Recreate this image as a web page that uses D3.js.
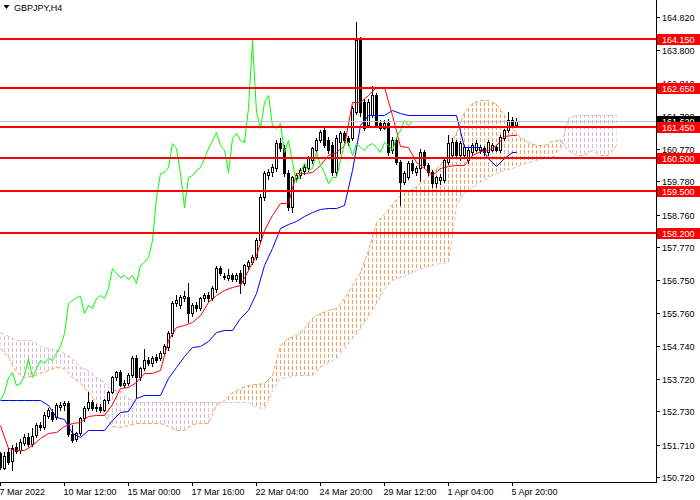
<!DOCTYPE html>
<html>
<head>
<meta charset="utf-8">
<script src="https://d3js.org/d3.v7.min.js"></script>
<style>
body { margin: 0; background: #fff; }
svg { display: block; font-family: "Liberation Sans", Arial, sans-serif; }
</style>
</head>
<body>
<svg class="theSvg" width="700" height="500"></svg>
<script>
// GBPJPY H4 candles, one per bar (bar 0 = 7 Mar 2022)
var opens = [
151.45,151.00,151.48,151.22,151.64,151.54,151.76,151.94,151.73,152.00,
152.31,152.25,152.59,152.71,152.56,152.86,152.92,152.98,152.05,151.88,
152.07,152.52,152.83,153.02,152.83,152.86,152.78,153.08,153.32,153.78,
153.93,153.54,153.60,153.84,154.36,153.78,154.06,154.30,154.21,154.40,
154.36,154.52,154.70,155.13,156.05,155.99,156.20,156.24,155.74,155.99,
155.90,156.20,156.30,156.20,156.48,157.12,156.88,156.82,156.91,156.79,
156.97,156.66,157.19,157.31,157.46,157.98,159.30,159.98,160.07,160.19,
160.96,160.80,160.04,158.99,159.88,159.98,160.10,160.19,160.43,160.74,
161.05,161.36,161.05,160.89,160.07,161.00,161.26,161.11,161.11,161.91,
164.12,162.21,161.51,161.82,162.43,161.57,161.42,161.57,160.74,161.05,
160.37,159.76,159.91,160.34,160.07,160.19,160.68,160.28,160.07,159.73,
159.82,159.82,160.37,160.59,160.99,160.59,160.59,160.43,160.68,160.74,
160.74,160.80,160.68,160.74,160.83,160.74,161.11,161.36,161.66,161.51];
var highs = [
151.50,151.48,151.60,151.70,151.75,151.88,152.04,152.06,152.22,152.36,
152.42,152.70,152.85,152.80,152.98,153.02,153.05,153.05,152.31,152.10,
152.55,152.90,153.32,153.08,152.95,152.96,153.12,153.36,153.82,153.96,
154.00,153.70,153.90,154.42,154.45,154.10,154.64,154.40,154.44,154.48,
154.58,154.80,155.18,156.10,156.30,156.30,156.42,156.66,156.05,156.08,
156.25,156.36,156.38,156.58,157.20,157.18,156.98,157.09,156.98,156.96,
157.05,157.26,157.36,157.52,158.05,159.38,160.10,160.15,160.30,161.05,
161.10,160.90,160.12,159.95,160.05,160.18,160.30,160.55,160.85,161.12,
161.36,161.45,161.15,160.98,161.20,161.32,161.34,161.18,162.10,164.67,
164.20,162.30,162.30,162.70,162.50,161.65,161.65,161.70,161.15,161.12,
160.45,160.10,160.40,160.45,160.25,160.78,160.74,160.35,160.12,159.95,
160.00,160.50,161.20,161.10,161.05,161.02,160.90,160.80,160.95,161.05,
160.90,160.88,161.05,160.95,160.90,161.20,161.40,161.91,161.75,161.72];
var lows = [
150.98,150.95,151.12,150.93,151.45,151.46,151.70,151.66,151.68,151.94,
152.15,152.20,152.52,152.44,152.50,152.76,152.78,151.98,151.80,151.82,
152.00,152.45,152.76,152.78,152.74,152.72,152.74,153.00,153.28,153.70,
153.50,153.48,153.55,153.80,153.17,153.70,154.00,154.15,154.12,154.25,
154.30,154.45,154.62,155.05,155.95,155.90,156.10,155.47,155.65,155.82,
155.85,156.12,156.12,156.15,156.40,156.90,156.78,156.76,156.72,156.72,
156.36,156.60,157.10,157.25,157.40,157.90,159.20,159.85,159.95,160.10,
160.70,159.95,158.90,158.85,159.80,159.88,160.00,160.10,160.35,160.66,
160.98,160.82,160.66,159.98,159.98,160.66,160.98,160.90,161.05,161.85,
161.80,161.35,161.45,161.75,161.45,161.35,161.38,160.60,160.66,160.30,
159.06,159.70,159.85,160.05,159.98,159.80,160.20,159.98,159.60,159.60,
159.70,159.76,160.30,160.50,160.50,160.45,160.50,160.35,160.60,160.70,
160.65,160.60,160.60,160.70,160.70,160.68,161.05,161.30,161.45,161.45];
var closes = [
151.02,151.36,151.18,151.61,151.51,151.79,151.94,151.73,151.97,152.31,
152.25,152.62,152.77,152.49,152.92,152.92,152.98,152.05,151.85,152.07,
152.52,152.83,153.02,152.83,152.86,152.78,153.08,153.32,153.78,153.93,
153.54,153.60,153.84,154.36,153.78,154.06,154.30,154.21,154.36,154.30,
154.52,154.73,155.13,156.05,156.14,156.24,156.27,155.74,155.99,155.90,
156.20,156.30,156.20,156.51,157.12,156.97,156.85,156.91,156.79,156.91,
156.66,157.22,157.31,157.46,157.98,159.30,160.04,160.07,160.22,160.96,
160.80,160.04,158.99,159.91,159.98,160.13,160.22,160.50,160.80,161.05,
161.29,160.89,160.74,160.07,161.11,161.26,161.05,160.99,162.03,164.12,
161.91,161.42,162.21,162.43,161.51,161.42,161.57,160.68,161.05,160.37,
159.76,160.04,160.34,160.13,160.19,160.68,160.28,160.07,159.73,159.91,
159.91,160.43,160.96,160.99,160.59,160.96,160.83,160.74,160.89,160.96,
160.83,160.68,160.99,160.89,160.74,161.14,161.36,161.66,161.51,161.62];

// Ichimoku lines read every second bar (last value = last bar)
var tenkan = [
152.31,151.61,151.54,151.54,151.70,151.91,152.07,152.10,152.28,152.37,
152.40,152.59,152.62,152.62,152.96,153.45,153.48,153.63,153.91,153.91,
154.00,154.92,155.32,155.38,155.47,155.68,156.08,156.30,156.45,156.54,
156.60,157.06,157.52,158.29,158.75,159.12,159.12,160.04,160.04,160.07,
160.28,160.59,160.68,160.89,162.21,162.21,162.43,162.67,162.67,161.82,
160.86,160.83,160.37,160.19,159.98,160.19,160.25,160.28,160.28,160.59,
160.71,160.74,160.89,161.17,161.20,161.20];
var kijun = [
153.08,153.08,153.08,153.08,153.08,153.08,152.92,152.56,152.49,152.07,
151.94,152.16,152.16,152.16,152.46,152.71,152.74,153.14,153.23,153.23,
153.23,153.75,154.09,154.43,154.70,154.73,154.89,155.16,155.22,155.22,
155.59,155.84,156.36,157.22,157.74,158.35,158.47,158.57,158.72,158.84,
158.93,158.96,158.96,159.06,160.13,161.51,161.82,161.82,161.82,161.97,
161.88,161.82,161.82,161.82,161.82,161.82,161.82,161.82,160.83,160.83,
160.83,160.50,160.25,160.50,160.68,160.68];
// cloud, every second bar, 26 bars past the last candle
var spanA = [
154.67,154.40,153.94,153.78,153.82,153.91,154.00,154.09,154.06,153.78,
153.60,153.32,153.02,152.65,152.28,152.25,152.31,152.37,152.37,152.37,
152.37,152.28,152.16,152.16,152.34,152.37,152.37,152.92,153.08,153.32,
153.45,153.54,153.57,153.60,153.84,154.76,154.98,155.07,155.28,155.59,
155.74,155.84,155.90,156.20,156.60,157.00,157.68,158.53,158.78,159.09,
159.36,159.48,159.64,159.82,160.07,160.28,160.74,161.29,161.91,162.18,
162.28,162.28,162.15,161.82,161.42,161.14,160.99,160.89,160.89,161.02,
161.05,160.74,160.59,160.59,160.74,160.59,160.59,160.89];
var spanB = [
155.16,155.04,154.92,154.92,154.92,154.73,154.67,154.61,154.52,154.36,
154.09,154.00,153.78,153.63,153.38,153.38,153.14,153.02,153.02,153.02,
153.02,153.02,153.02,153.02,153.02,153.02,153.02,153.02,153.02,153.02,
153.02,153.02,152.86,152.83,153.38,153.75,153.78,153.84,153.84,153.84,
154.09,154.24,154.36,154.67,154.98,155.28,155.65,156.05,156.51,156.76,
156.85,156.94,157.06,157.16,157.22,157.28,157.31,159.06,159.46,159.61,
159.76,159.91,160.04,160.13,160.19,160.28,160.37,160.44,160.50,160.53,
160.80,161.72,161.82,161.82,161.82,161.82,161.82,161.82];

var levels = [164.150, 162.650, 161.450, 160.500, 159.500, 158.200];
var priceTicks = [164.820, 163.800, 162.810, 161.790, 160.770, 159.780, 158.760,
	157.770, 156.750, 155.760, 154.740, 153.720, 152.730, 151.710, 150.720];
var timeLabels = ["7 Mar 2022", "10 Mar 12:00", "15 Mar 00:00", "17 Mar 16:00",
	"22 Mar 04:00", "24 Mar 20:00", "29 Mar 12:00", "1 Apr 04:00", "5 Apr 20:00"];
var timeBars = [0, 16, 32, 48, 64, 80, 96, 112, 128];

var lineBars = d3.range(0, 130, 2).concat([129]);
var spanBars = d3.range(0, 156, 2);
var chikouShift = 26;

var plotW = 656, plotH = 482;

var x = d3.scaleLinear().domain([0, 1]).range([0.5, 4.5]);
var y = d3.scaleLinear().domain([150.72, 164.82]).range([477, 17]);

var svg = d3.select(".theSvg");
var defs = svg.append("defs");

defs.append("clipPath").attr("id", "plotClip")
	.append("rect").attr("x", 0).attr("y", 0).attr("width", plotW).attr("height", plotH);

function hatch(id, color){
	var p = defs.append("pattern")
		.attr("id", id)
		.attr("patternUnits", "userSpaceOnUse")
		.attr("width", 4)
		.attr("height", 6);
	p.append("rect")
		.attr("x", 0).attr("y", 0)
		.attr("width", 1).attr("height", 4)
		.attr("fill", color);
}
hatch("hatchUp", "#F4A460");
hatch("hatchDown", "#D8BFD8");

var plot = svg.append("g").attr("clip-path", "url(#plotClip)");

// cloud
var upArea = d3.area()
	.x(function(d, k){ return x(spanBars[k]); })
	.y0(function(d, k){ return y(spanB[k]); })
	.y1(function(d, k){ return y(Math.max(spanA[k], spanB[k])); });
var downArea = d3.area()
	.x(function(d, k){ return x(spanBars[k]); })
	.y0(function(d, k){ return y(spanA[k]); })
	.y1(function(d, k){ return y(Math.max(spanA[k], spanB[k])); });

plot.append("path").attr("d", upArea(spanA)).attr("fill", "url(#hatchUp)");
plot.append("path").attr("d", downArea(spanA)).attr("fill", "url(#hatchDown)");

function lineOf(bars, vals){
	return d3.line()
		.x(function(d, k){ return x(bars[k]); })
		.y(function(d){ return Math.round(y(d)) + 0.5; })(vals);
}

plot.append("path").attr("d", lineOf(spanBars, spanA))
	.attr("fill", "none").attr("stroke", "#F4A460").attr("stroke-width", 1)
	.style("stroke-dasharray", "4,2");
plot.append("path").attr("d", lineOf(spanBars, spanB))
	.attr("fill", "none").attr("stroke", "#D8BFD8").attr("stroke-width", 1)
	.style("stroke-dasharray", "4,2");

// candles
var candles = plot.selectAll(".candle")
	.data(closes)
	.enter()
	.append("g")
	.attr("class", "candle");

candles.append("line")
	.attr("x1", function(d, i){ return x(i); })
	.attr("x2", function(d, i){ return x(i); })
	.attr("y1", function(d, i){ return Math.round(y(highs[i])); })
	.attr("y2", function(d, i){ return Math.round(y(lows[i])) + 1; })
	.attr("stroke", "#000")
	.attr("stroke-width", 1);

candles.append("rect")
	.attr("x", function(d, i){ return x(i) - 1; })
	.attr("y", function(d, i){ return Math.round(y(Math.max(opens[i], d))) + 0.5; })
	.attr("width", 2)
	.attr("height", function(d, i){
		return Math.abs(Math.round(y(opens[i])) - Math.round(y(d)));
	})
	.attr("fill", function(d, i){ return d >= opens[i] ? "#fff" : "#000"; })
	.attr("stroke", "#000")
	.attr("stroke-width", 1);

// indicator lines
plot.append("path").attr("d", lineOf(lineBars, kijun))
	.attr("fill", "none").attr("stroke", "#0000FF").attr("stroke-width", 1);
plot.append("path").attr("d", lineOf(lineBars, tenkan))
	.attr("fill", "none").attr("stroke", "#FF0000").attr("stroke-width", 1);

var chikou = closes.slice(chikouShift);
plot.append("path")
	.attr("d", lineOf(d3.range(chikou.length), chikou))
	.attr("fill", "none").attr("stroke", "#00FF00").attr("stroke-width", 1);

// bid line
var last = closes[closes.length - 1];
plot.append("line")
	.attr("x1", 0).attr("x2", plotW)
	.attr("y1", Math.round(y(last)) + 0.5).attr("y2", Math.round(y(last)) + 0.5)
	.attr("stroke", "#C0C0C0").attr("stroke-width", 1);

// horizontal levels
plot.selectAll(".level")
	.data(levels)
	.enter()
	.append("line")
	.attr("class", "level")
	.attr("x1", 0).attr("x2", plotW)
	.attr("y1", function(d){ return Math.round(y(d)); })
	.attr("y2", function(d){ return Math.round(y(d)); })
	.attr("stroke", "#FF0000")
	.attr("stroke-width", 2);

// axes frame
svg.append("line").attr("x1", plotW + 0.5).attr("x2", plotW + 0.5)
	.attr("y1", 0).attr("y2", plotH + 1).attr("stroke", "#000");
svg.append("line").attr("x1", 0).attr("x2", plotW + 1)
	.attr("y1", plotH + 0.5).attr("y2", plotH + 0.5).attr("stroke", "#000");

// price scale
var pt = svg.selectAll(".ptick")
	.data(priceTicks)
	.enter()
	.append("g")
	.attr("class", "ptick")
	.attr("transform", function(d){ return "translate(0," + (Math.round(y(d)) + 0.5) + ")"; });
pt.append("line").attr("x1", plotW).attr("x2", plotW + 4)
	.attr("stroke", "#000");
pt.append("text")
	.attr("x", 662).attr("y", 3.5)
	.attr("font-size", "9px").attr("fill", "#000")
	.text(function(d){ return d.toFixed(3); });

// time scale
var tt = svg.selectAll(".ttick")
	.data(timeBars)
	.enter()
	.append("g")
	.attr("class", "ttick")
	.attr("transform", function(d){ return "translate(" + x(d) + ",0)"; });
tt.append("line").attr("y1", plotH).attr("y2", plotH + 4).attr("stroke", "#000");
tt.append("text")
	.attr("x", -1).attr("y", 495)
	.attr("font-size", "9px").attr("fill", "#000")
	.text(function(d, i){ return timeLabels[i]; });

// bid label (under the level labels)
var bidY = Math.round(y(last));
svg.append("rect").attr("x", 657).attr("y", bidY - 5).attr("width", 43).attr("height", 11).attr("fill", "#000");
svg.append("text").attr("x", 662).attr("y", bidY + 4)
	.attr("font-size", "9px").attr("fill", "#fff").text(last.toFixed(3));

var lab = svg.selectAll(".lvlLabel")
	.data(levels)
	.enter()
	.append("g")
	.attr("class", "lvlLabel")
	.attr("transform", function(d){ return "translate(0," + Math.round(y(d)) + ")"; });
lab.append("rect").attr("x", 657).attr("y", -5).attr("width", 43).attr("height", 11)
	.attr("fill", "#FF0000");
lab.append("text").attr("x", 662).attr("y", 4)
	.attr("font-size", "9px").attr("fill", "#fff")
	.text(function(d){ return d.toFixed(3); });

// title
svg.append("path").attr("d", "M3.5,5 L9.5,5 L6.5,9 Z").attr("fill", "#000");
svg.append("text").attr("x", 14).attr("y", 11)
	.attr("font-size", "9px").attr("fill", "#000").text("GBPJPY,H4");
</script>
</body>
</html>
